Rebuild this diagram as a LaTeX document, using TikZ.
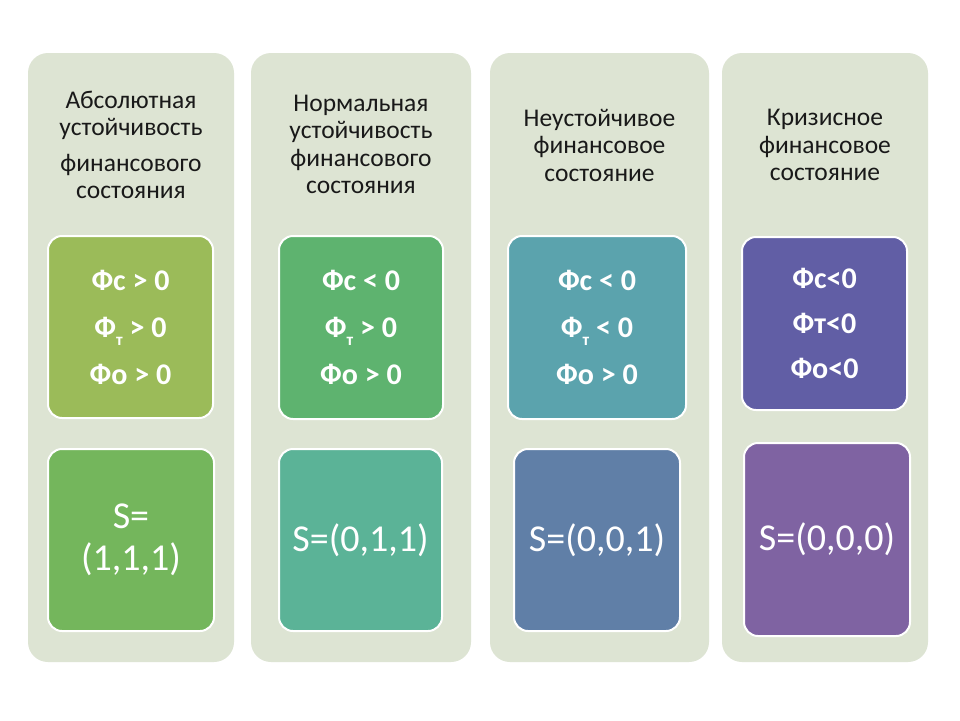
\documentclass[tikz,border=0pt]{standalone}
\usepackage{fontspec}
\setmainfont{Carlito}
\definecolor{bgc}{RGB}{221,228,211}
\definecolor{cA}{RGB}{155,187,89}
\definecolor{cB}{RGB}{116,182,92}
\definecolor{cC}{RGB}{94,179,111}
\definecolor{cD}{RGB}{91,179,151}
\definecolor{cE}{RGB}{91,163,173}
\definecolor{cF}{RGB}{96,127,167}
\definecolor{cG}{RGB}{97,94,165}
\definecolor{cH}{RGB}{127,99,162}
\definecolor{tit}{RGB}{25,25,25}
\newcommand{\subT}{\raisebox{-0.28em}{\fontsize{17}{17}\selectfont т}}
\begin{document}
\begin{tikzpicture}[x=1pt,y=-1pt,
  colbox/.style={fill=bgc, rounded corners=20pt, inner sep=0pt, minimum height=609pt},
  box/.style={draw=white, line width=2pt, rounded corners=14pt, inner sep=0pt, text=white, align=center},
  cond/.style={box, font=\bfseries\fontsize{30}{47}\selectfont},
  sval/.style={box, font=\fontsize{38}{42}\selectfont},
  title/.style={text=tit, align=center, inner sep=0pt, font=\fontsize{25.5}{27.5}\selectfont}]
\useasboundingbox (0,0) rectangle (960,720);
\fill[white] (0,0) rectangle (960,720);
% columns
\node[colbox, minimum width=206pt] (col1) at (131,357.5) {};
\node[colbox, minimum width=220pt] (col2) at (361,357.5) {};
\node[colbox, minimum width=219pt] (col3) at (599.5,357.5) {};
\node[colbox, minimum width=206pt] (col4) at (825,357.5) {};
% titles
\node[title] (t1) at (131,145) {Абсолютная\\устойчивость\\[8pt]финансового\\состояния};
\node[title] (t2) at (361,144.5) {Нормальная\\устойчивость\\финансового\\состояния};
\node[title] (t3) at (599.5,145) {Неустойчивое\\финансовое\\состояние};
\node[title] (t4) at (825,145) {Кризисное\\финансовое\\состояние};
% condition boxes
\node[cond, fill=cA, minimum width=165pt, minimum height=182pt] (u1) at (130.5,327)
  {Фс > 0\\Ф\subT{} > 0\\Фо > 0};
\node[cond, fill=cC, minimum width=164pt, minimum height=183pt] (u2) at (361,327.5)
  {Фс < 0\\Ф\subT{} > 0\hspace{8pt}\\Фо > 0};
\node[cond, fill=cE, minimum width=178pt, minimum height=183pt] (u3) at (597,327.5)
  {Фс < 0\\Ф\subT{} < 0\hspace{4pt}\\Фо > 0};
\node[cond, fill=cG, minimum width=165pt, minimum height=173pt, font=\bfseries\fontsize{30}{45}\selectfont] (u4) at (824.5,323.5)
  {Фс<0\\Фт<0\\Фо<0};
% S boxes
\node[sval, fill=cB, minimum width=166pt, minimum height=182pt] (s1) at (131,540) {S=\\(1,1,1)};
\node[sval, fill=cD, minimum width=163pt, minimum height=182pt] (s2) at (360.5,540) {S=(0,1,1)};
\node[sval, fill=cF, minimum width=166pt, minimum height=182pt] (s3) at (597,540) {S=(0,0,1)};
\node[sval, fill=cH, minimum width=166pt, minimum height=193pt] (s4) at (827,539.5) {S=(0,0,0)};
\end{tikzpicture}
\end{document}
